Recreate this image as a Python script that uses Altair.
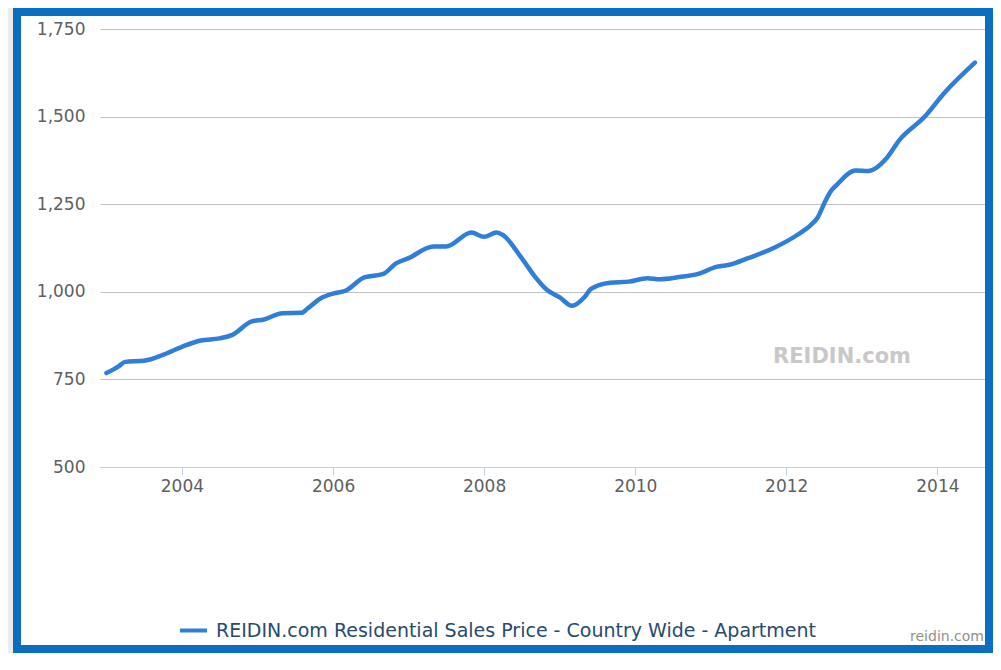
import altair as alt
import pandas as pd

# Monthly readings (approximate) of the index
dates = [
    "2003-01-01", "2003-03-01", "2003-04-01", "2003-07-01", "2003-10-01",
    "2004-01-01", "2004-04-01", "2004-07-01", "2004-09-01", "2004-12-01",
    "2005-02-01", "2005-05-01", "2005-08-01", "2005-09-01", "2005-11-01",
    "2006-01-01", "2006-03-01", "2006-06-01", "2006-09-01", "2006-11-01",
    "2007-01-01", "2007-05-01", "2007-07-01", "2007-11-01",
    "2008-01-01", "2008-03-01", "2008-04-01", "2008-07-01", "2008-09-01", "2008-11-01",
    "2009-01-01", "2009-03-01", "2009-05-01", "2009-06-01", "2009-09-01", "2009-12-01",
    "2010-03-01", "2010-05-01", "2010-08-01", "2010-11-01",
    "2011-02-01", "2011-04-01", "2011-07-01", "2011-11-01",
    "2012-03-01", "2012-05-01", "2012-06-01", "2012-07-01", "2012-08-01", "2012-09-01", "2012-12-01",
    "2013-02-01", "2013-05-01", "2013-07-01", "2013-11-01",
    "2014-02-01", "2014-07-01",
]
values = [
    768, 787, 800, 803, 820,
    843, 861, 867, 877, 915,
    921, 939, 940, 953, 981,
    995, 1003, 1041, 1051, 1081,
    1096, 1129, 1129, 1169,
    1157, 1169, 1162, 1096, 1045, 1005,
    984, 960, 985, 1008, 1026, 1029,
    1039, 1036, 1042, 1051,
    1072, 1077, 1096, 1125,
    1165, 1192, 1212, 1250, 1285, 1305, 1346,
    1345, 1382, 1433, 1500,
    1566, 1654,
]
series_name = "REIDIN.com Residential Sales Price - Country Wide - Apartment"
y_ticks = [500, 750, 1000, 1250, 1500, 1750]
x_tick_years = [2004, 2006, 2008, 2010, 2012, 2014]
watermark = ["REIDIN.com"]
credits = ["reidin.com"]

df = pd.DataFrame({"date": dates, "value": values, "series": series_name})

W, H = 885, 438
FONT = "DejaVu Sans"

line = alt.Chart(df).mark_line(
    interpolate="monotone", strokeWidth=4.5, strokeCap="round", strokeJoin="round"
).encode(
    x=alt.X(
        "date:T",
        title=None,
        scale=alt.Scale(domain=[alt.DateTime(year=2002, month=12, date=1),
                                alt.DateTime(year=2014, month=8, date=19)]),
        axis=alt.Axis(
            values=[alt.DateTime(year=y, month=1, date=1) for y in x_tick_years],
            format="%Y", grid=False, domainColor="#c0d0e0", tickColor="#c0d0e0",
            tickSize=8, labelPadding=3, labelFontSize=17, labelColor="#606060",
            labelFont=FONT,
        ),
    ),
    y=alt.Y(
        "value:Q",
        title=None,
        scale=alt.Scale(domain=[500, 1750], nice=False, zero=False),
        axis=alt.Axis(
            values=y_ticks, format=",.0f", ticks=False, tickSize=0, domain=False,
            gridColor="#c0c0c0", gridWidth=1, labelPadding=15, labelFontSize=17,
            labelColor="#606060", labelFont=FONT,
        ),
    ),
    color=alt.Color(
        "series:N",
        scale=alt.Scale(range=["#2f7ed8"]),
        legend=alt.Legend(
            title=None, orient="none", legendX=78, legendY=586,
            symbolType="stroke", symbolSize=729, symbolStrokeWidth=4,
            labelFontSize=19, labelColor="#274b6d", labelFont=FONT,
            labelOffset=7, padding=0, labelLimit=1000,
        ),
    ),
)

one = pd.DataFrame({"label": watermark})
wm = alt.Chart(one).mark_text(
    font=FONT, fontSize=21, fontWeight="bold", color="#c8c8c8",
    align="center", baseline="middle",
).encode(x=alt.value(742), y=alt.value(328), text="label:N")

cr = alt.Chart(pd.DataFrame({"label": credits})).mark_text(
    font=FONT, fontSize=14, color="#909090", align="right", baseline="middle",
).encode(x=alt.value(884), y=alt.value(608), text="label:N")

frame = alt.Chart(pd.DataFrame({"k": [0]})).mark_rect(
    fillOpacity=0, stroke="#0b6fc1", strokeWidth=8,
).encode(x=alt.value(-83), x2=alt.value(889), y=alt.value(-17), y2=alt.value(620))

strip = alt.Chart(pd.DataFrame({"k": [0]})).mark_rect(
    color="#eeebe9",
).encode(x=alt.value(-92), x2=alt.value(-87), y=alt.value(-21), y2=alt.value(700))

chart = alt.layer(strip, frame, wm, line, cr).properties(
    width=W, height=H,
    autosize=alt.AutoSizeParams(type="none"),
    padding={"left": 92, "top": 21, "right": 8, "bottom": 186},
    background="white",
).configure_view(strokeWidth=0)

chart.save("out.html", embed_options={"renderer": "svg", "actions": False})
